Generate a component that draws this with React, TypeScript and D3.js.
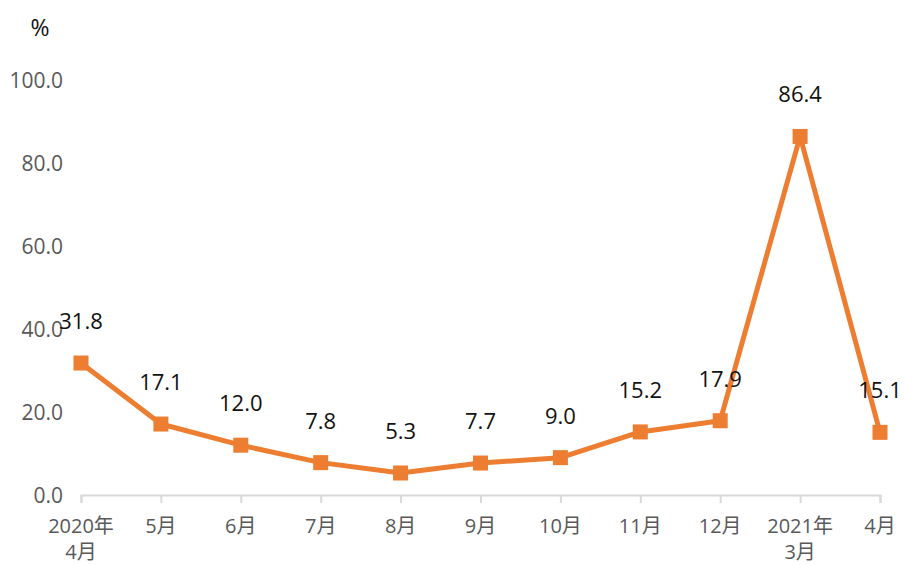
import { useEffect, useRef } from 'react';
import * as d3 from 'd3';

const categories = ['2020年\n4月', '5月', '6月', '7月', '8月', '9月', '10月', '11月', '12月', '2021年\n3月', '4月'];
const values = [31.8, 17.1, 12.0, 7.8, 5.3, 7.7, 9.0, 15.2, 17.9, 86.4, 15.1];
const yTicks = [0, 20, 40, 60, 80, 100];

const W = 905;
const H = 565;
const FONT = '"Open Sans", "Noto Sans CJK SC", sans-serif';

export default function App() {
  const ref = useRef<SVGSVGElement>(null);

  useEffect(() => {
    if (!ref.current) return;
    const svg = d3.select(ref.current);
    svg.selectAll('*').remove();

    const x = d3.scalePoint<string>().domain(categories).range([81, 880]);
    const y = d3.scaleLinear().domain([0, 100]).range([495, 80]);

    // unit
    svg.append('text')
      .attr('x', 40).attr('y', 36)
      .attr('text-anchor', 'middle')
      .style('font-family', FONT).style('font-size', '23px')
      .attr('fill', '#111')
      .text('%');

    // y tick labels
    svg.append('g').selectAll('text')
      .data(yTicks)
      .join('text')
      .attr('x', 63)
      .attr('y', d => y(d))
      .attr('dy', '0.36em')
      .attr('text-anchor', 'end')
      .style('font-family', FONT).style('font-size', '21px')
      .attr('fill', '#595959')
      .text(d => d.toFixed(1));

    // x axis
    const xAxis = svg.append('g').attr('transform', `translate(0,${y(0)})`)
      .call(d3.axisBottom(x).tickSize(8).tickFormat(() => ''));
    xAxis.select('.domain').attr('stroke', '#D9D9D9').attr('stroke-width', 2);
    xAxis.selectAll('.tick line').attr('stroke', '#D9D9D9').attr('stroke-width', 2);

    const xl = svg.append('g').selectAll('text')
      .data(categories)
      .join('text')
      .attr('x', d => x(d)!)
      .attr('y', y(0) + 38)
      .attr('text-anchor', 'middle')
      .style('font-family', FONT).style('font-size', '20px')
      .attr('fill', '#595959');
    xl.selectAll('tspan')
      .data(d => d.split('\n').map(s => ({ s, cat: d })))
      .join('tspan')
      .attr('x', d => x(d.cat)!)
      .attr('dy', (_, i) => (i === 0 ? 0 : 26))
      .text(d => d.s);

    // line
    const line = d3.line<number>()
      .x((_, i) => x(categories[i])!)
      .y(d => y(d));
    svg.append('path')
      .datum(values)
      .attr('d', line)
      .attr('fill', 'none')
      .attr('stroke', '#ED7D31')
      .attr('stroke-width', 5)
      .attr('stroke-linejoin', 'round');

    // markers
    const ms = 15;
    svg.append('g').selectAll('rect')
      .data(values)
      .join('rect')
      .attr('x', (_, i) => x(categories[i])! - ms / 2)
      .attr('y', d => y(d) - ms / 2)
      .attr('width', ms).attr('height', ms)
      .attr('fill', '#ED7D31');

    // data labels
    svg.append('g').selectAll('text')
      .data(values)
      .join('text')
      .attr('x', (_, i) => x(categories[i])!)
      .attr('y', d => y(d) - 42)
      .attr('dy', '0.36em')
      .attr('text-anchor', 'middle')
      .style('font-family', FONT).style('font-size', '22px')
      .attr('fill', '#111')
      .text(d => d.toFixed(1));
  }, []);

  return (
    <svg ref={ref} width={W} height={H}
      style={{ position: 'absolute', left: 0, top: 0, background: '#fff' }} />
  );
}
